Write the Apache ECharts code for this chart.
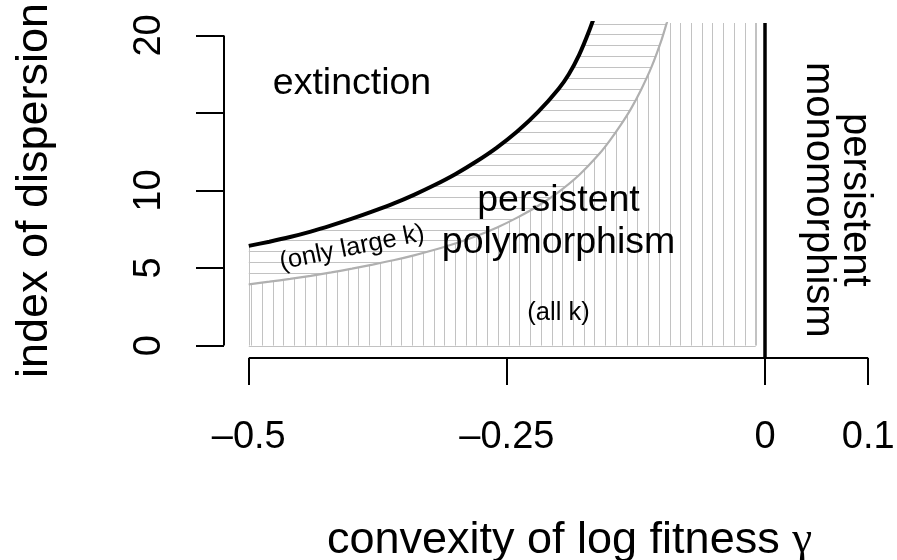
<!DOCTYPE html>
<html><head><meta charset="utf-8">
<script src="https://cdn.jsdelivr.net/npm/echarts@6/dist/echarts.min.js"></script>
<style>html,body{margin:0;padding:0;background:#fff}#c{width:897px;height:560px}</style>
</head><body><div id="c"></div>
<script>
// ---- data ----
const xTicks = [-0.5, -0.25, 0, 0.1];
const yTicks = [0, 5, 10, 15, 20];
const yTickLabels = [0, 5, 10, 20];
const xLimits = [-0.5, 0.1];
const yLimits = [0, 20];

// boundary of extinction (black curve)
const extinctionX = [-0.50, -0.48, -0.46, -0.44, -0.42, -0.40, -0.38, -0.36, -0.34, -0.32, -0.30, -0.28, -0.26, -0.24, -0.22, -0.20, -0.19, -0.18, -0.17, -0.16];
const extinctionY = [6.43, 6.70, 7.00, 7.35, 7.75, 8.18, 8.65, 9.15, 9.72, 10.35, 11.05, 11.85, 12.75, 13.80, 15.05, 16.55, 17.50, 18.75, 20.35, 22.2];

// boundary of polymorphism for all k (grey curve)
const allKX = [-0.50, -0.48, -0.46, -0.44, -0.42, -0.40, -0.38, -0.36, -0.34, -0.32, -0.30, -0.28, -0.26, -0.24, -0.22, -0.20, -0.18, -0.16, -0.15, -0.14, -0.13, -0.12, -0.11, -0.10, -0.095, -0.09];
const allKY = [3.95, 4.12, 4.30, 4.50, 4.72, 4.96, 5.22, 5.50, 5.82, 6.18, 6.58, 7.05, 7.60, 8.25, 9.00, 9.90, 11.00, 12.40, 13.25, 14.20, 15.25, 16.50, 17.95, 19.75, 20.84, 22.0];

const monomorphismX = 0;
const allKRightX = -0.009;

const labelTexts = ['extinction', 'persistent\npolymorphism', '(only large k)', '(all k)', 'persistent\nmonomorphism'];
const labelX = [-0.40, -0.20, -0.40, -0.20, 0.069];
const labelY = [16.9, 8.0, 6.3, 2.1, 9.4];

// ---- styles ----
const labelStyle = [
  {size: 37.5, lh: 42, rot: 0},
  {size: 37.5, lh: 42, rot: 0},
  {size: 25.5, lh: 28, rot: 11.5},
  {size: 25.5, lh: 28, rot: 0},
  {size: 40, lh: 37, rot: -90}
];
const hatchOriginX = -0.321, hatchStepX = 0.01039;
const hatchOriginY = 20.06, hatchStepY = 0.699;
const hatchColor = '#c2c2c2';

function fontAvailable(name) {
  const ctx = document.createElement('canvas').getContext('2d');
  const s = 'mmmmmmmmmmlli0123456789';
  ctx.font = '40px monospace'; const a = ctx.measureText(s).width;
  ctx.font = '40px "' + name + '", monospace'; const b = ctx.measureText(s).width;
  ctx.font = '40px serif'; const c = ctx.measureText(s).width;
  ctx.font = '40px "' + name + '", serif'; const d = ctx.measureText(s).width;
  return a !== b || c !== d;
}
const narrow = fontAvailable('Liberation Sans Narrow');
const axisFont = narrow ? 'Liberation Sans Narrow' : 'Liberation Sans';
const tickSize = narrow ? 44 : 38;
const titleSize = narrow ? 54 : 45;
const plotFont = 'Liberation Sans';

const xSpan = xLimits[1] - xLimits[0], ySpan = yLimits[1] - yLimits[0];
const xMin = xLimits[0] - 0.04 * xSpan, xMax = xLimits[1] + 0.04 * xSpan;
const yMin = yLimits[0] - 0.04 * ySpan, yMax = yLimits[1] + 0.04 * ySpan;

function yAtX(xs, ys, x) {
  if (x <= xs[0]) return ys[0];
  for (let i = 1; i < xs.length; i++) {
    if (x <= xs[i]) { const t = (x - xs[i-1]) / (xs[i] - xs[i-1]); return ys[i-1] + t * (ys[i] - ys[i-1]); }
  }
  return Infinity;
}
function xAtY(xs, ys, y) {
  if (y <= ys[0]) return xs[0];
  for (let i = 1; i < ys.length; i++) {
    if (y <= ys[i]) { const t = (y - ys[i-1]) / (ys[i] - ys[i-1]); return xs[i-1] + t * (xs[i] - xs[i-1]); }
  }
  return xs[xs.length - 1];
}
const zip = (a, b) => a.map((v, i) => [v, b[i]]);

const chart = echarts.init(document.getElementById('c'), null, {renderer: 'canvas'});

function hatchRender(params, api) {
  const children = [];
  const seg = (x1, y1, x2, y2, color, w) => {
    const a = api.coord([x1, y1]), b = api.coord([x2, y2]);
    let ax = a[0], ay = a[1], bx = b[0], by = b[1];
    if (Math.abs(ax - bx) < 0.01) { ax = bx = Math.round(ax) + 0.5; }
    if (Math.abs(ay - by) < 0.01) { ay = by = Math.round(ay) + 0.5; }
    children.push({type: 'line', shape: {x1: ax, y1: ay, x2: bx, y2: by}, style: {stroke: color, lineWidth: w}});
  };
  const x0 = xLimits[0];
  let j = Math.ceil((x0 - hatchOriginX) / hatchStepX);
  for (;; j++) {
    const x = hatchOriginX + j * hatchStepX;
    if (x > allKRightX) break;
    const yt = Math.min(yAtX(allKX, allKY, x), yMax);
    seg(x, 0, x, yt, hatchColor, 1);
  }
  for (let k = -1;; k++) {
    const y = hatchOriginY - k * hatchStepY;
    if (y < allKY[0]) break;
    if (y > yMax) continue;
    const xl = y <= extinctionY[0] ? x0 : xAtY(extinctionX, extinctionY, y);
    const xr = xAtY(allKX, allKY, y);
    if (xr > xl) seg(xl, y, xr, y, hatchColor, 1);
  }
  seg(x0, 0, x0, extinctionY[0], hatchColor, 1);
  seg(x0, 0, allKRightX, 0, hatchColor, 1);
  seg(allKRightX, 0, allKRightX, yMax, hatchColor, 1);
  return {type: 'group', children};
}

function labelRender(params, api) {
  const i = api.value(2);
  const p = api.coord([api.value(0), api.value(1)]);
  const st = labelStyle[i];
  return {
    type: 'text', x: p[0], y: p[1], rotation: st.rot * Math.PI / 180,
    style: {text: labelTexts[i], fontFamily: plotFont, fontSize: st.size, lineHeight: st.lh,
            fill: '#000', align: 'center', verticalAlign: 'middle'}
  };
}

const fmtX = v => (v < 0 ? '\u2013' + String(-v) : String(v));

chart.setOption({
  animation: false,
  grid: {left: 224, right: 4, top: 23, bottom: 202, containLabel: false, outerBoundsMode: 'none'},
  xAxis: {
    type: 'value', min: xMin, max: xMax,
    axisLine: {show: false, onZero: false},
    splitLine: {show: false},
    axisTick: {show: true, customValues: xTicks, length: 27, lineStyle: {color: '#000', width: 2}},
    axisLabel: {customValues: xTicks, formatter: fmtX, margin: 61, color: '#000',
                fontFamily: axisFont, fontSize: tickSize},
    name: 'convexity of log fitness {g|\u03b3}', nameLocation: 'middle', nameGap: 160, nameMoveOverlap: false,
    nameTextStyle: {fontFamily: axisFont, fontSize: titleSize, color: '#000', padding: [0, 0, 0, 22],
                    rich: {g: {fontFamily: 'Liberation Serif', fontSize: titleSize, color: '#000'}}}
  },
  yAxis: {
    type: 'value', min: yMin, max: yMax,
    axisLine: {show: false, onZero: false},
    splitLine: {show: false},
    axisTick: {show: true, customValues: yTicks, length: 28, lineStyle: {color: '#000', width: 2}},
    axisLabel: {customValues: yTickLabels, rotate: 90, margin: 55, color: '#000',
                fontFamily: axisFont, fontSize: tickSize},
    name: 'index of dispersion', nameLocation: 'middle', nameGap: 167, nameRotate: 90, nameMoveOverlap: false,
    nameTextStyle: {fontFamily: axisFont, fontSize: titleSize, color: '#000'}
  },
  series: [
    {type: 'custom', renderItem: hatchRender, data: [[xLimits[0], yLimits[0]]], clip: true, silent: true, z: 1},
    {type: 'line', data: zip(allKX, allKY), smooth: 0.25, symbol: 'none', clip: true, silent: true, z: 2,
     lineStyle: {color: '#b0b0b0', width: 2.2}},
    {type: 'line', data: zip(extinctionX, extinctionY), smooth: 0.25, symbol: 'none', clip: true, silent: true, z: 3,
     lineStyle: {color: '#000', width: 4},
     markLine: {silent: true, symbol: ['none', 'none'], label: {show: false},
                lineStyle: {color: '#000', width: 3.5, type: 'solid'}, data: [{xAxis: monomorphismX}]}},
    {type: 'line', data: [[xTicks[0], yMin], [xTicks[xTicks.length - 1], yMin]], symbol: 'none', clip: false,
     silent: true, z: 4, lineStyle: {color: '#000', width: 2}},
    {type: 'line', data: [[xMin, yTicks[0]], [xMin, yTicks[yTicks.length - 1]]], symbol: 'none', clip: false,
     silent: true, z: 4, lineStyle: {color: '#000', width: 2}},
    {type: 'custom', renderItem: labelRender, data: labelTexts.map((t, i) => [labelX[i], labelY[i], i]),
     clip: false, silent: true, z: 5}
  ]
});
</script></body></html>
